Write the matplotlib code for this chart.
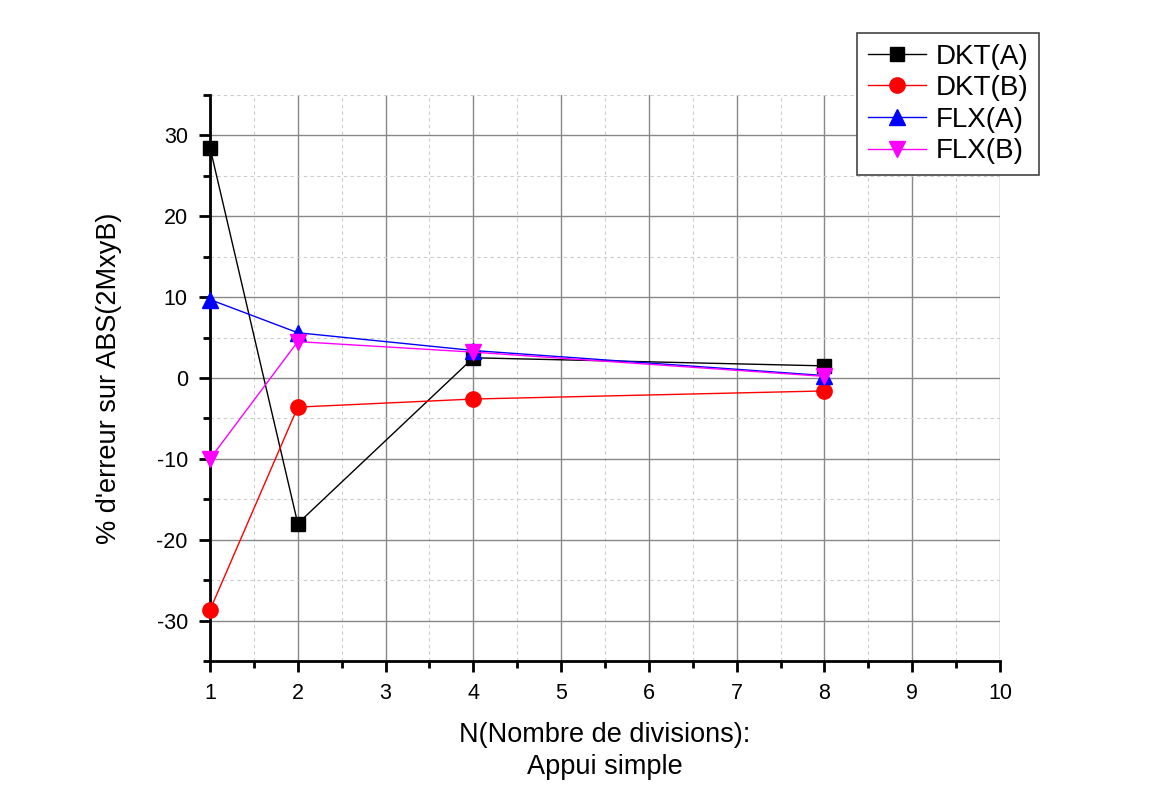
import matplotlib
matplotlib.use("Agg")
import matplotlib.pyplot as plt
from matplotlib.ticker import MultipleLocator, FuncFormatter

plt.rcParams['font.family'] = ['Liberation Sans', 'DejaVu Sans']
plt.rcParams['axes.unicode_minus'] = False

N = [1, 2, 4, 8]
dkt_a = [28.5, -18.0, 2.5, 1.5]
dkt_b = [-28.7, -3.6, -2.6, -1.6]
flx_a = [9.7, 5.6, 3.4, 0.3]
flx_b = [-10.0, 4.5, 3.2, 0.2]

fig = plt.figure(figsize=(11.55, 7.85), dpi=100)
ax = fig.add_axes([210/1155, 1-661/785, (1000-210)/1155, (661-95)/785])

ax.plot(N, dkt_a, color='black', lw=1, marker='s', ms=10, label='DKT(A)', clip_on=False, zorder=5)
ax.plot(N, dkt_b, color='red', lw=1, marker='o', ms=11, label='DKT(B)', clip_on=False, zorder=5)
ax.plot(N, flx_a, color='blue', lw=1, marker='^', ms=11, label='FLX(A)', clip_on=False, zorder=5)
ax.plot(N, flx_b, color='magenta', lw=1, marker='v', ms=11, label='FLX(B)', clip_on=False, zorder=5)

ax.set_xlim(1, 10)
ax.set_ylim(-35, 35)
ax.xaxis.set_major_locator(MultipleLocator(1))
ax.xaxis.set_minor_locator(MultipleLocator(0.5))
ax.yaxis.set_major_locator(MultipleLocator(10))
ax.yaxis.set_minor_locator(MultipleLocator(5))
ax.xaxis.set_major_formatter(FuncFormatter(lambda v, p: f"{v:.0f}"))
ax.yaxis.set_major_formatter(FuncFormatter(lambda v, p: f"{v:.0f}"))
ax.grid(which='major', color='#888888', lw=1, ls='-')
ax.grid(which='minor', color='#cccccc', lw=0.8, ls=(0, (3, 3)))
ax.set_axisbelow(True)

for s in ['top', 'right']:
    ax.spines[s].set_visible(False)
for s in ['left', 'bottom']:
    ax.spines[s].set_linewidth(2)
ax.tick_params(which='major', direction='out', length=8, width=2, labelsize=15.5, pad=8)
ax.tick_params(which='minor', direction='out', length=5, width=2)

ax.set_ylabel("% d'erreur sur ABS(2MxyB)", fontsize=19.5, labelpad=25)
fig.text(605/1155, 1-751/785, 'N(Nombre de divisions):\nAppui simple', fontsize=19.5,
         ha='center', va='center', linespacing=1.25)

leg = ax.legend(loc='upper left', bbox_to_anchor=(857/1155, 1-33/785), bbox_transform=fig.transFigure,
                fontsize=20, frameon=True, fancybox=False, edgecolor='#444444', framealpha=1,
                borderpad=0.38, labelspacing=0.2, handlelength=2.1, handletextpad=0.35, borderaxespad=0)
leg.get_frame().set_linewidth(1.2)

fig.savefig('out.png', dpi=100)
